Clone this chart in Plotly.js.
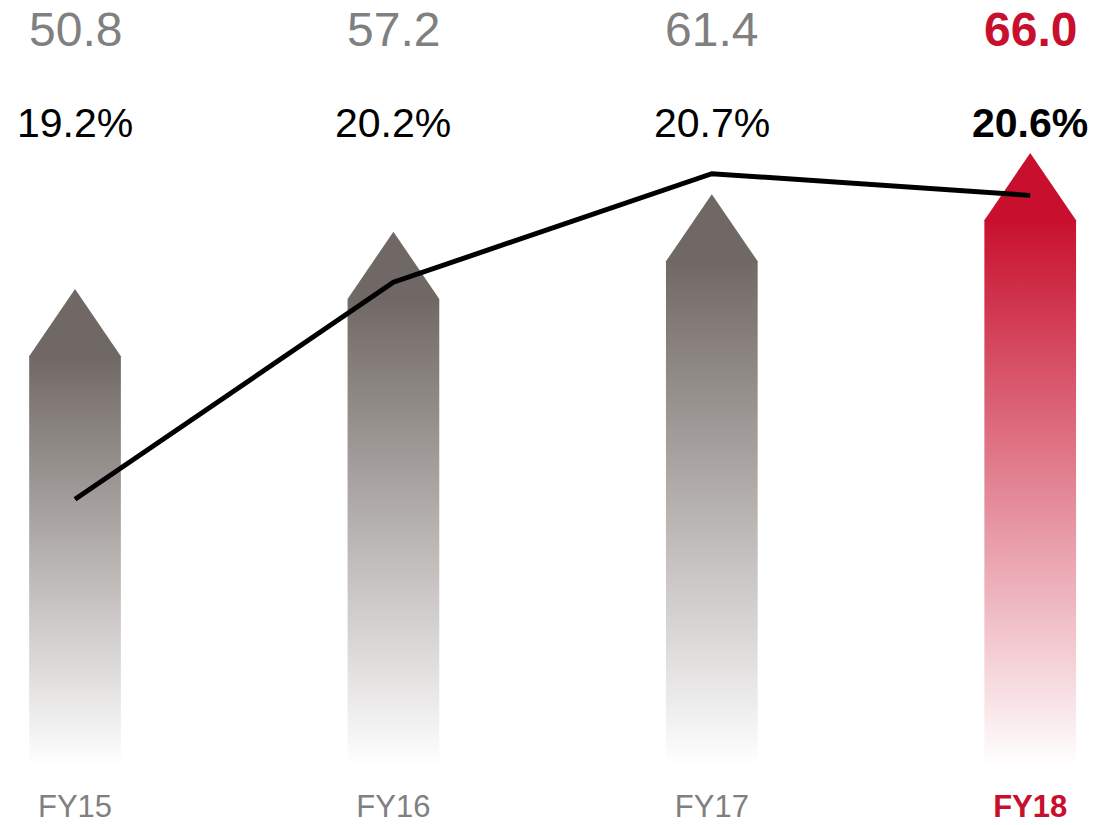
<!DOCTYPE html>
<html>
<head>
<meta charset="utf-8">
<script src="https://cdn.plot.ly/plotly-3.0.1.min.js"></script>
<style>html,body{margin:0;padding:0;background:#fff;}#chart{width:1096px;height:825px;}</style>
</head>
<body>
<div id="chart"></div>
<script>
// ---- data ----
const categories = ['FY15', 'FY16', 'FY17', 'FY18'];
const revenue = [50.8, 57.2, 61.4, 66.0];
const marginPct = [19.2, 20.2, 20.7, 20.6];
const revenueLabels = ['50.8', '57.2', '61.4', '66.0'];
const marginLabels = ['19.2%', '20.2%', '20.7%', '20.6%'];

// ---- style constants ----
const FONT = 'Liberation Sans, Arial, sans-serif';
const GRAY_TOP = '#706864';
const RED = '#c8102e';
const GRAY_TEXT = '#808080';
const BAR_BASE = 5;      // axis value where the faded bars start
const HALF_W = 0.144;    // half bar width in category units
const TIP = 7.5;         // arrow tip height in value units

const xpos = categories.map((c, i) => i);
const highlight = categories.length - 1;

const traces = [];
categories.forEach((c, i) => {
  const x = xpos[i], v = revenue[i];
  const top = i === highlight ? RED : GRAY_TOP;
  traces.push({
    type: 'scatter',
    mode: 'none',
    x: [x - HALF_W, x - HALF_W, x, x + HALF_W, x + HALF_W, x - HALF_W],
    y: [BAR_BASE, v, v + TIP, v, BAR_BASE, BAR_BASE],
    fill: 'toself',
    fillgradient: {
      type: 'vertical',
      colorscale: [[0, '#ffffff'], [1, top]],
      start: BAR_BASE,
      stop: v
    },
    hoverinfo: 'skip',
    showlegend: false
  });
});

traces.push({
  type: 'scatter',
  mode: 'lines',
  x: xpos,
  y: marginPct,
  yaxis: 'y2',
  line: {color: '#000000', width: 5},
  showlegend: false,
  hoverinfo: 'skip'
});

const annotations = [];
categories.forEach((c, i) => {
  const hl = i === highlight;
  annotations.push({
    xref: 'x', yref: 'paper', x: xpos[i], y: 1 - 30 / 775,
    xanchor: 'center', yanchor: 'middle', showarrow: false,
    text: hl ? '<b>' + revenueLabels[i] + '</b>' : revenueLabels[i],
    font: {family: FONT, size: 48, color: hl ? RED : GRAY_TEXT}
  });
  annotations.push({
    xref: 'x', yref: 'paper', x: xpos[i], y: 1 - 123 / 775,
    xanchor: 'center', yanchor: 'middle', showarrow: false,
    text: hl ? '<b>' + marginLabels[i] + '</b>' : marginLabels[i],
    font: {family: FONT, size: 41, color: '#000000'}
  });
});

const ticktext = categories.map((c, i) =>
  i === highlight ? '<span style="color:' + RED + '"><b>' + c + '</b></span>' : c);

const layout = {
  width: 1096, height: 825,
  margin: {l: 0, r: 0, t: 0, b: 50, pad: 0},
  paper_bgcolor: '#ffffff', plot_bgcolor: '#ffffff',
  showlegend: false,
  xaxis: {
    range: [-0.2356, 3.2066],
    tickvals: xpos, ticktext: ticktext,
    showgrid: false, zeroline: false, showline: false, ticks: '',
    ticklabelstandoff: 10,
    tickfont: {family: FONT, size: 31, color: GRAY_TEXT},
    fixedrange: true
  },
  yaxis: {range: [4, 90.6], visible: false, fixedrange: true},
  yaxis2: {range: [17.93, 21.50], overlaying: 'y', side: 'right', visible: false, fixedrange: true},
  annotations: annotations
};

Plotly.newPlot('chart', traces, layout, {displayModeBar: false, staticPlot: true});
</script>
</body>
</html>
